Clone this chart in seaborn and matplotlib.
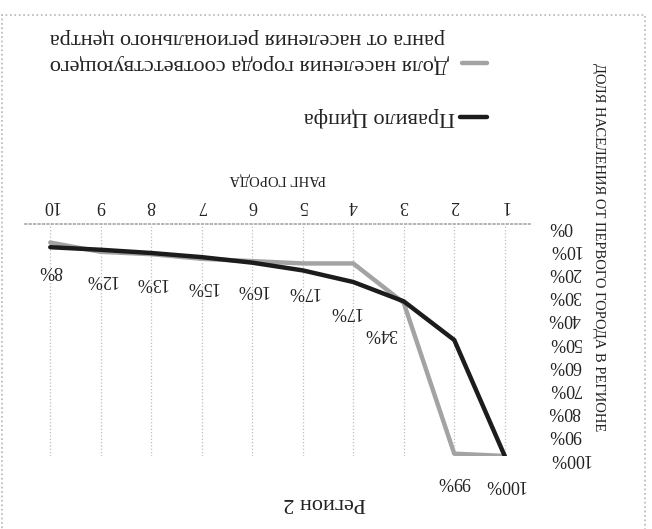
import matplotlib
matplotlib.use('Agg')
import matplotlib.pyplot as plt
import seaborn as sns
import pandas as pd
from matplotlib.lines import Line2D
from matplotlib.patches import Rectangle
from matplotlib.ticker import FuncFormatter

# Data
ranks = [1, 2, 3, 4, 5, 6, 7, 8, 9, 10]
zipf = [100 / r for r in ranks]  # Zipf rule: 1/rank of the first city
share = [100, 99, 34, 17, 17, 16, 15, 13, 12, 8]
share_labels = ['100%', '99%', '34%', '17%', '17%', '16%', '15%', '13%', '12%', '8%']
y_ticks = [0, 10, 20, 30, 40, 50, 60, 70, 80, 90, 100]

title = 'Регион 2'
x_title = 'РАНГ ГОРОДА'
y_title = 'ДОЛЯ НАСЕЛЕНИЯ ОТ ПЕРВОГО ГОРОДА В РЕГИОНЕ'
legend_zipf = 'Правило Ципфа'
legend_share = ['Доля населения города соответствующего',
                'ранга от населения регионального центра']

sns.set_style('white')
plt.rcParams['font.family'] = ['Liberation Serif', 'DejaVu Serif']

W, H = 652, 529
fig = plt.figure(figsize=(W / 100, H / 100), dpi=100)


def fx(px):
    return px / W


def fy(py):
    return 1 - py / H


# the scan is upside down, so both axes are reversed and all text turned 180 degrees
ax = fig.add_axes([fx(25), fy(456), fx(530) - fx(25), fy(224) - fy(456)])

df = pd.DataFrame({'rank': ranks, 'zipf': zipf, 'share': share})
sns.lineplot(data=df, x='rank', y='share', ax=ax, color='#a3a3a3', linewidth=3.2)
sns.lineplot(data=df, x='rank', y='zipf', ax=ax, color='#1c1c1c', linewidth=3.2)

ax.set_xlim(10.5, 0.5)
ax.set_ylim(100, 0)
ax.set_xticks(ranks)
ax.set_yticks(y_ticks)
ax.yaxis.set_major_formatter(FuncFormatter(lambda v, p: f'{int(v)}%'))
ax.xaxis.tick_top()
ax.yaxis.tick_right()
ax.tick_params(axis='both', length=0, labelrotation=180, labelsize=13, colors='#222222')
ax.tick_params(axis='y', pad=13)
ax.tick_params(axis='x', pad=7)
ax.set_xlabel('')
ax.set_ylabel('')

ax.grid(axis='x', linestyle=':', color='#bdbdbd', linewidth=0.9)
ax.grid(axis='y', visible=False)
for s in ['left', 'right', 'bottom']:
    ax.spines[s].set_visible(False)
ax.spines['top'].set_linestyle(':')
ax.spines['top'].set_color('#a8a8a8')
ax.spines['top'].set_linewidth(1.2)

# data labels of the share series
nudges = {3: (-23, 3), 4: (-8, 20)}
for r, v, lab in zip(ranks, share, share_labels):
    dx, dy = nudges.get(r, (0, 0))
    ax.annotate(lab, (r, v), textcoords='offset pixels', xytext=(dx, -28 - dy),
                ha='center', va='center', rotation=180, fontsize=13, color='#222222')

# titles
fig.text(fx(325), fy(502), title, rotation=180, ha='center', va='center', fontsize=16, color='#222222')
fig.text(fx(278), fy(178), x_title, rotation=180, ha='center', va='center', fontsize=10.5, color='#222222')
fig.text(fx(598), fy(247), y_title, rotation=270, ha='center', va='center', fontsize=10.5, color='#222222')

# legend drawn by hand (upside down)
fig.add_artist(Line2D([fx(460), fx(487)], [fy(117), fy(117)], color='#1c1c1c', linewidth=3.2))
fig.text(fx(455), fy(117), legend_zipf, rotation=180, ha='right', va='center', fontsize=16, color='#222222')
fig.add_artist(Line2D([fx(462), fx(487)], [fy(63), fy(63)], color='#a3a3a3', linewidth=3.2))
fig.text(fx(50), fy(63), legend_share[0], rotation=180, ha='left', va='center', fontsize=16, color='#222222')
fig.text(fx(50), fy(38), legend_share[1], rotation=180, ha='left', va='center', fontsize=16, color='#222222')

# dotted frame of the chart area
fig.add_artist(Rectangle((fx(2), fy(540)), fx(645) - fx(2), fy(15) - fy(540),
                         fill=False, linestyle=':', edgecolor='#b5b5b5', linewidth=1.2))

fig.savefig('out.png', dpi=100)
